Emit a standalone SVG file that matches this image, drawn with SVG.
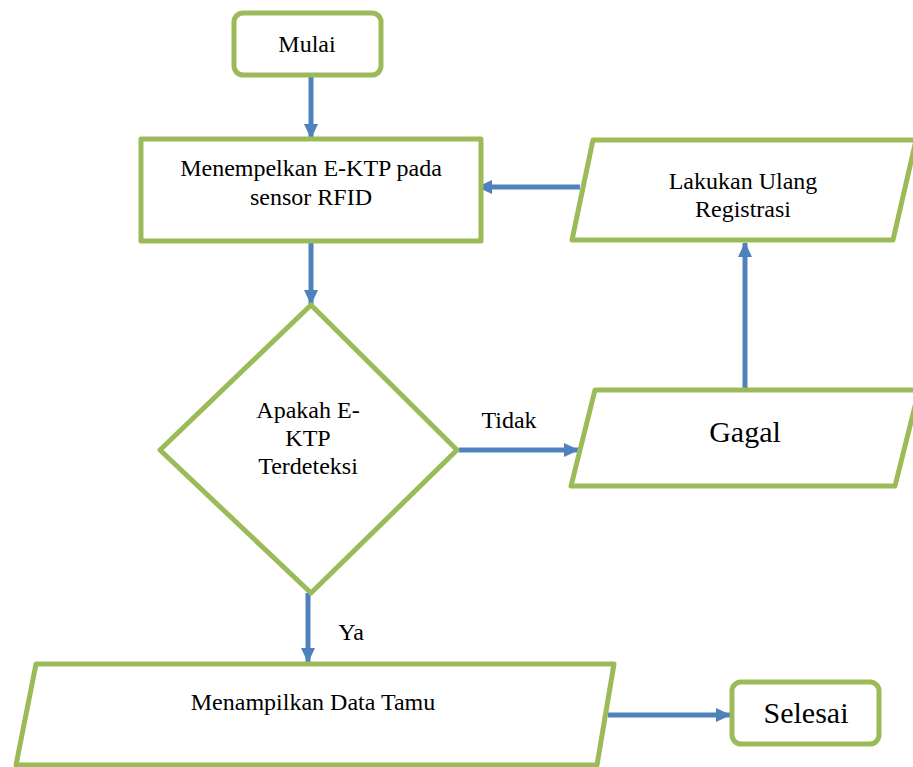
<svg xmlns="http://www.w3.org/2000/svg" width="913" height="767" viewBox="0 0 913 767">
<style>
.shape{fill:#ffffff;stroke:#9BBB59;stroke-width:5;stroke-linejoin:round}
.txt{font-family:"Liberation Serif","Times New Roman",serif;font-size:24px;fill:#000;text-anchor:middle}
.big{font-size:30px}
.conn{stroke:#4F81BD;stroke-width:5;fill:none;marker-end:url(#ah)}
</style>
<defs>
<marker id="ah" markerUnits="userSpaceOnUse" markerWidth="16" markerHeight="16" refX="14" refY="8" orient="auto">
<path d="M0,1 L15,8 L0,15 z" fill="#4F81BD"/>
</marker>
</defs>
<rect width="913" height="767" fill="#ffffff"/>
<g id="connectors">
<line class="conn" x1="311" y1="76" x2="311" y2="138"/>
<line class="conn" x1="311" y1="242" x2="311" y2="304"/>
<line class="conn" x1="459" y1="450" x2="578" y2="450"/>
<line class="conn" x1="745" y1="389" x2="745" y2="243"/>
<line class="conn" x1="580" y1="187" x2="478" y2="187"/>
<line class="conn" x1="308" y1="593" x2="308" y2="662"/>
<line class="conn" x1="608" y1="715" x2="730" y2="715"/>
<text class="txt" x="509" y="428">Tidak</text>
<text class="txt" x="351" y="640">Ya</text>
</g>
<g id="mulai">
<rect class="shape" x="234" y="13" width="147" height="62" rx="9"/>
<text class="txt" x="307" y="52">Mulai</text>
</g>
<g id="menempelkan">
<rect class="shape" x="141" y="139" width="340" height="102"/>
<text class="txt" x="311" y="176">Menempelkan E-KTP pada</text>
<text class="txt" x="311" y="205">sensor RFID</text>
</g>
<g id="apakah">
<polygon class="shape" points="311,305 457,450 311,593 160,450"/>
<text class="txt" x="308" y="418">Apakah E-</text>
<text class="txt" x="308" y="446">KTP</text>
<text class="txt" x="308" y="474">Terdeteksi</text>
</g>
<g id="gagal">
<polygon class="shape" points="595,390 919,390 895,486 571,486"/>
<text class="txt big" x="745" y="442">Gagal</text>
</g>
<g id="lakukan">
<polygon class="shape" points="593,140 916,140 893,240 572,240"/>
<text class="txt" x="743" y="189">Lakukan Ulang</text>
<text class="txt" x="743" y="217">Registrasi</text>
</g>
<g id="menampilkan">
<polygon class="shape" points="36,664 614,664 597,765 16,765"/>
<text class="txt" x="313" y="710">Menampilkan Data Tamu</text>
</g>
<g id="selesai">
<rect class="shape" x="732" y="682" width="147" height="62" rx="9"/>
<text class="txt big" x="806" y="723">Selesai</text>
</g>
</svg>
